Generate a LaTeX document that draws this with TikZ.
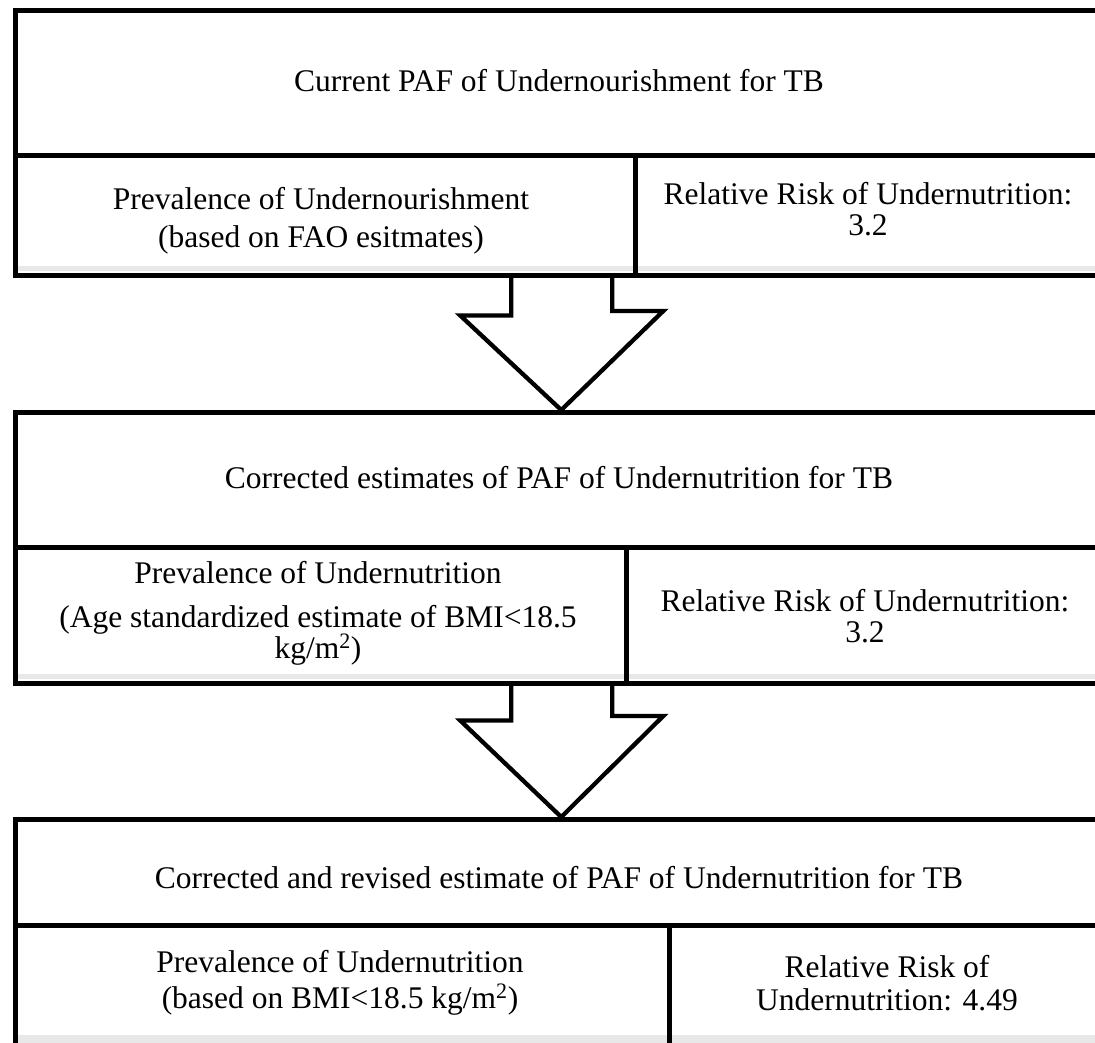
\documentclass[tikz,border=0pt]{standalone}
\usepackage{fontspec}
\setmainfont{Liberation Serif}
\usetikzlibrary{calc}
\begin{document}
\begin{tikzpicture}[x=1pt,y=-1pt,
  box/.style={draw=black, line width=4.5pt, inner sep=0pt, anchor=north west, rectangle},
  txt/.style={font=\fontsize{31.5}{38}\selectfont, anchor=base, inner sep=0pt},
  mtxt/.style={font={\fontsize{31.5}{#1}\selectfont\lineskiplimit=-50pt}, anchor=base, inner sep=0pt, align=center},
  blockarrow/.style={draw=black, line width=4.3pt, line join=miter},
  band/.style={fill=black!9, draw=none}]
\useasboundingbox (0,0) rectangle (1095,1042);
\clip (0,0) rectangle (1095,1042);
% light shading just above the lower edges
\fill[band] (15,266) rectangle (1100,271);
\fill[band] (15,674) rectangle (1100,679);
\fill[band] (15,1035) rectangle (1100,1045);
% block 1
\node[box, minimum width=1092pt, minimum height=145pt] (t1) at (13,8) {};
\node[box, minimum width=620pt, minimum height=120pt] (l1) at (13,153) {};
\node[box, minimum width=472pt, minimum height=120pt] (r1) at (633,153) {};
% block 2
\node[box, minimum width=1092pt, minimum height=135pt] (t2) at (13,410) {};
\node[box, minimum width=611pt, minimum height=136pt] (l2) at (13,545) {};
\node[box, minimum width=481pt, minimum height=136pt] (r2) at (624,545) {};
% block 3
\node[box, minimum width=1092pt, minimum height=106pt] (t3) at (13,817) {};
\node[box, minimum width=654pt, minimum height=124pt] (l3) at (13,923) {};
\node[box, minimum width=438pt, minimum height=124pt] (r3) at (667,923) {};
% texts (multi-line nodes are placed at the baseline of their last line)
\node[txt] (t1a) at (559,91) {Current PAF of Undernourishment for TB};
\node[mtxt=38pt] (l1a) at (321,247) {Prevalence of Undernourishment\\(based on FAO esitmates)};
\node[mtxt=31pt] (r1a) at (868,235) {Relative Risk of Undernutrition:\\3.2};
\node[txt] (t2a) at (559,488) {Corrected estimates of PAF of Undernutrition for TB};
\node[mtxt=31pt] (l2a) at (318,658) {Prevalence of Undernutrition\\[13pt](Age standardized estimate of BMI<18.5\\kg/m\textsuperscript{2})};
\node[mtxt=31pt] (r2a) at (865,642) {Relative Risk of Undernutrition:\\3.2};
\node[txt] (t3a) at (559,888) {Corrected and revised estimate of PAF of Undernutrition for TB};
\node[mtxt=36pt] (l3a) at (340,1008) {Prevalence of Undernutrition\\(based on BMI<18.5 kg/m\textsuperscript{2})};
\node[mtxt=33pt] (r3a) at (887,1010) {Relative Risk of\\Undernutrition: 4.49};
% block arrows
\draw[blockarrow] ($(t1.south |- l1.south)+(-50,0)$) -- ++(0,38) -- ++(-51,0)
  -- (t2.north) -- ++(102,-99) -- ++(-51,0) -- ++(0,-38);
\draw[blockarrow] ($(t2.south |- l2.south)+(-50,0)$) -- ++(0,35) -- ++(-51,0)
  -- (t3.north) -- ++(102,-101) -- ++(-51,0) -- ++(0,-35);
\end{tikzpicture}
\end{document}
